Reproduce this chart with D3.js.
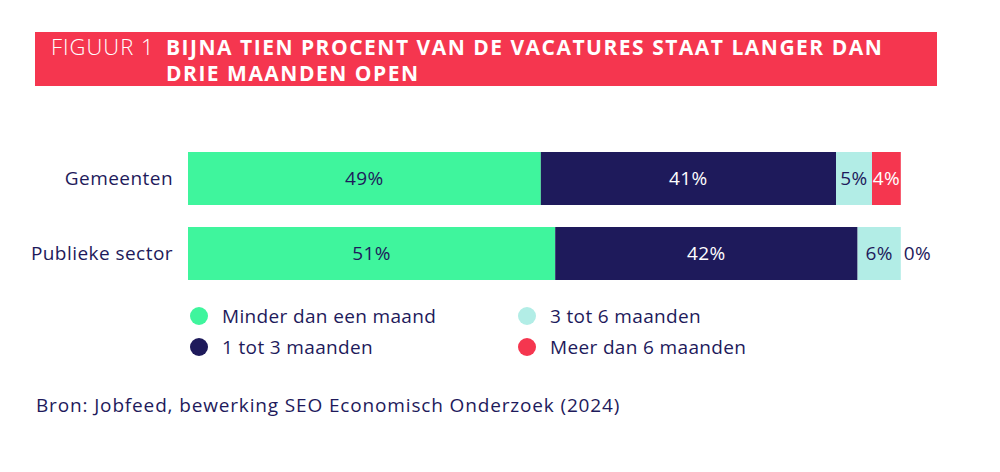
<!DOCTYPE html>
<html>
<head>
<meta charset="utf-8">
<script src="https://cdn.jsdelivr.net/npm/d3@7"></script>
<style>
  html, body { margin: 0; padding: 0; background: #fff; }
  svg { display: block; font-family: "Open Sans", Lato, sans-serif; }
</style>
</head>
<body>
<svg id="chart" width="1000" height="472"></svg>
<script>
const categories = ["Gemeenten", "Publieke sector"];
const seriesNames = ["Minder dan een maand", "1 tot 3 maanden", "3 tot 6 maanden", "Meer dan 6 maanden"];
const seriesKeys = ["lt1", "m1to3", "m3to6", "gt6"];
const lt1 = [49, 51];
const m1to3 = [41, 42];
const m3to6 = [5, 6];
const gt6 = [4, 0];
const colors = ["#3ff59d", "#1e1a5b", "#b2ede6", "#f5364f"];
const labelColors = ["#1e1a5b", "#ffffff", "#1e1a5b", "#ffffff"];
const titleLead = "FIGUUR 1";
const titleLines = ["BIJNA TIEN PROCENT VAN DE VACATURES STAAT LANGER DAN", "DRIE MAANDEN OPEN"];
const sourceText = "Bron: Jobfeed, bewerking SEO Economisch Onderzoek (2024)";

const values = { lt1, m1to3, m3to6, gt6 };
const data = categories.map((c, i) => {
  const row = { cat: c };
  seriesKeys.forEach(k => row[k] = values[k][i]);
  return row;
});

const svg = d3.select("#chart");
const navy = "#1e1a5b";
const FS = 19;

// Title banner
svg.append("rect").attr("x", 35).attr("y", 32).attr("width", 902).attr("height", 54).attr("fill", "#f5364f");
svg.append("text").attr("x", 51).attr("y", 55).attr("fill", "#fff")
  .attr("font-size", 22).attr("font-weight", 300).attr("letter-spacing", 1).text(titleLead);
titleLines.forEach((t, i) => {
  svg.append("text").attr("x", 166).attr("y", 55 + i * 26).attr("fill", "#fff")
    .attr("font-size", 21).attr("font-weight", 700).attr("letter-spacing", 1.5).text(t);
});

// Scales
const x = d3.scaleLinear().domain([0, 100]).range([188, 908]);
const y = d3.scaleBand().domain(categories).range([152, 280]).paddingInner(22 / 75).paddingOuter(0);

const stack = d3.stack().keys(seriesKeys)(data);

const layers = svg.append("g").selectAll("g").data(stack).join("g")
  .attr("fill", (d, i) => colors[i]);

layers.selectAll("rect").data(d => d).join("rect")
  .attr("x", d => x(d[0]))
  .attr("y", d => y(d.data.cat))
  .attr("width", d => x(d[1]) - x(d[0]))
  .attr("height", y.bandwidth());

stack.forEach((layer, li) => {
  svg.append("g").selectAll("text").data(layer).join("text")
    .attr("x", d => (d[1] - d[0]) > 0 ? (x(d[0]) + x(d[1])) / 2 : x(d[1]) + 3)
    .attr("y", d => y(d.data.cat) + y.bandwidth() / 2)
    .attr("dy", "0.36em")
    .attr("text-anchor", d => (d[1] - d[0]) > 0 ? "middle" : "start")
    .attr("fill", d => (d[1] - d[0]) > 0 ? labelColors[li] : navy)
    .attr("font-size", FS)
    .attr("letter-spacing", 0.4)
    .text(d => (d[1] - d[0]) + "%");
});

// Category axis
const yAxis = svg.append("g").attr("transform", "translate(173,0)")
  .call(d3.axisLeft(y).tickSize(0).tickPadding(0));
yAxis.select(".domain").remove();
yAxis.selectAll("text").attr("font-size", FS).attr("fill", navy)
  .attr("letter-spacing", 0.45)
  .attr("font-family", '"Open Sans", Lato, sans-serif');

// Legend
const legendPos = [[199, 316], [199, 347], [527, 316], [527, 347]];
seriesNames.forEach((n, i) => {
  const g = svg.append("g").attr("transform", `translate(${legendPos[i][0]},${legendPos[i][1]})`);
  g.append("circle").attr("r", 9).attr("fill", colors[i]);
  g.append("text").attr("x", 23).attr("dy", "0.36em").attr("font-size", FS)
    .attr("letter-spacing", 0.35).attr("fill", navy).text(n);
});

// Source
svg.append("text").attr("x", 36).attr("y", 412).attr("font-size", FS)
  .attr("letter-spacing", 0.85).attr("fill", navy).text(sourceText);
</script>
</body>
</html>
